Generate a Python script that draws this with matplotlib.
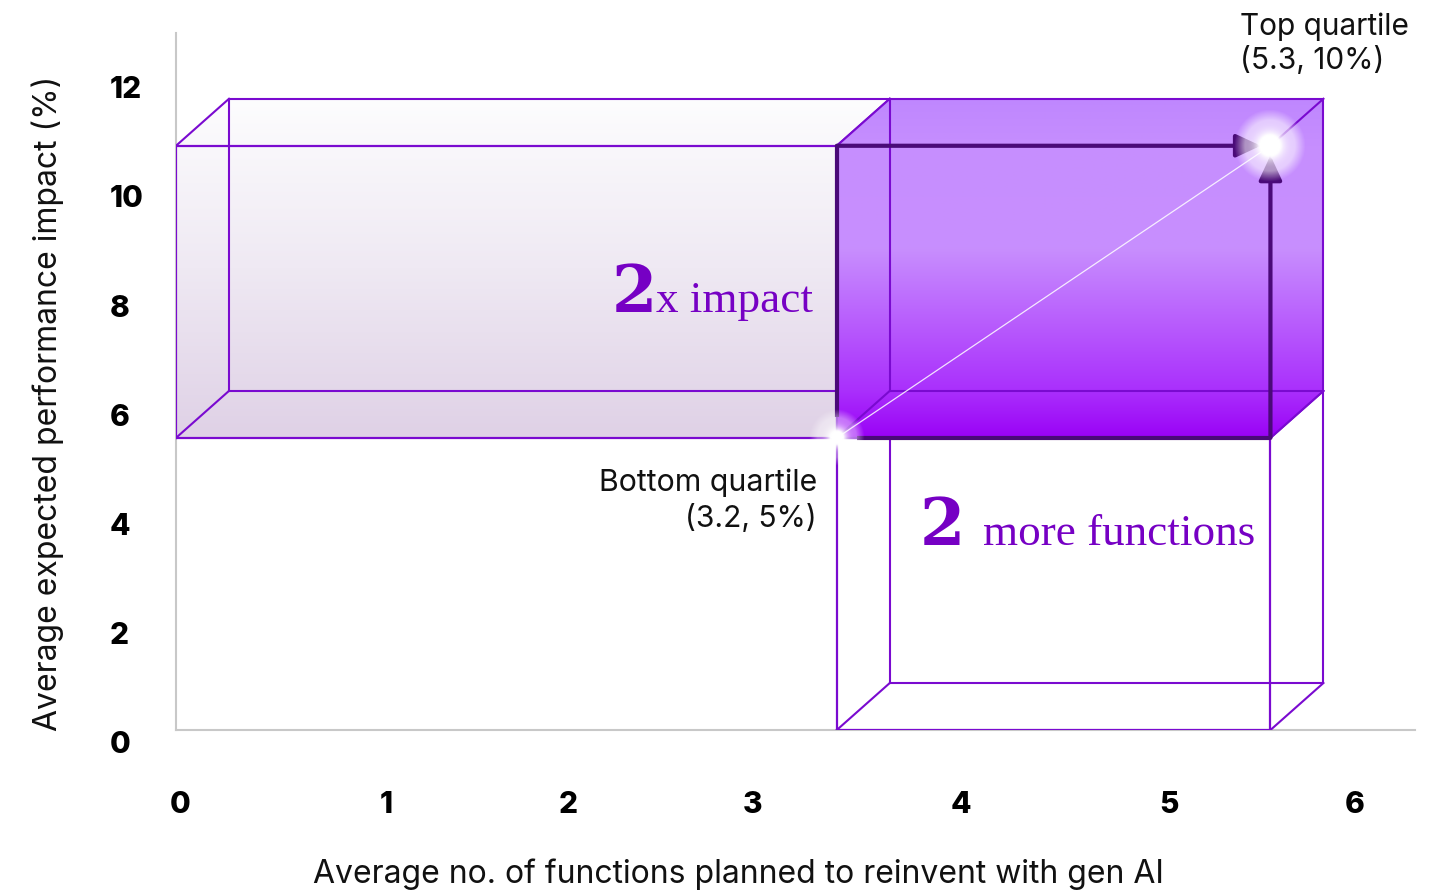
import numpy as np
import matplotlib
matplotlib.use("Agg")
import matplotlib.pyplot as plt
from matplotlib.colors import LinearSegmentedColormap
from matplotlib.patches import Polygon

# ----------------------------
# DATA
# ----------------------------
quartiles = ["Bottom quartile", "Top quartile"]
functions = [3.2, 5.3]     # average no. of functions planned
impact = [5, 10]           # average expected performance impact (%)

x_tick_labels = ["0", "1", "2", "3", "4", "5", "6"]
y_tick_labels = ["0", "2", "4", "6", "8", "10", "12"]
# label positions as they sit in the original (not evenly spaced)
x_tick_pos = [0.02, 1.02, 1.90, 2.79, 3.80, 4.81, 5.71]
y_tick_pos = [-0.26, 1.61, 3.48, 5.34, 7.21, 9.09, 10.96]

# ----------------------------
# STYLE
# ----------------------------
SANS = ["Inter", "DejaVu Sans"]
SERIF = ["Liberation Serif", "DejaVu Serif"]
EDGE = "#7A0AD0"
DARK = "#4A0A78"
TEXT_PURPLE = "#7600C4"
AXIS_GREY = "#C8C8C8"

W, H, DPI = 1443, 894, 100
X_MAX, Y_MAX = 6.0, 11.93
AX_L, AX_R, AX_B, AX_T = 176, 1415, 730, 33   # pixels
PPX = (AX_R - AX_L) / X_MAX
PPY = (AX_B - AX_T) / Y_MAX
DX, DY = 53 / PPX, 47 / PPY                    # box depth

fig = plt.figure(figsize=(W / DPI, H / DPI), dpi=DPI)
ax = fig.add_axes([AX_L / W, (H - AX_B) / H, (AX_R - AX_L) / W, (AX_B - AX_T) / H])
ax.set_xlim(0, X_MAX)
ax.set_ylim(0, Y_MAX)


def draw_box(x0, x1, y0, y1, stops=None, z=2):
    verts = [(x0, y0), (x1, y0), (x1 + DX, y0 + DY), (x1 + DX, y1 + DY),
             (x0 + DX, y1 + DY), (x0, y1)]
    if stops is not None:
        cmap = LinearSegmentedColormap.from_list("g", stops)
        grad = np.linspace(0, 1, 256).reshape(-1, 1)
        clip = Polygon(verts, closed=True, transform=ax.transData,
                       facecolor="none", edgecolor="none")
        ax.add_patch(clip)
        im = ax.imshow(grad, cmap=cmap, origin="lower", aspect="auto",
                       extent=(x0, x1 + DX, y0, y1 + DY), zorder=z,
                       interpolation="bilinear")
        im.set_clip_path(clip)
    # back face
    ax.plot([x0 + DX, x1 + DX, x1 + DX, x0 + DX, x0 + DX],
            [y0 + DY, y0 + DY, y1 + DY, y1 + DY, y0 + DY],
            color=EDGE, lw=1.5, zorder=z + 0.1)
    # depth edges
    for cx, cy in [(x0, y0), (x1, y0), (x1, y1), (x0, y1)]:
        ax.plot([cx, cx + DX], [cy, cy + DY], color=EDGE, lw=1.5, zorder=z + 0.1)
    # front face
    ax.plot([x0, x1, x1, x0, x0], [y0, y0, y1, y1, y0],
            color=EDGE, lw=1.6, zorder=z + 0.2)


def glow(x, y, r_px, core, halo, z=8):
    n = 121
    g = np.linspace(-1, 1, n)
    gx, gy = np.meshgrid(g, g)
    r = np.sqrt(gx ** 2 + gy ** 2)
    a = core * np.exp(-(r / 0.33) ** 2) + halo * np.clip((1 - r) / 0.3, 0, 1)
    rgba = np.ones((n, n, 4))
    rgba[..., 3] = np.clip(a, 0, 1)
    ax.imshow(rgba, extent=(x - r_px / PPX, x + r_px / PPX, y - r_px / PPY, y + r_px / PPY),
              aspect="auto", zorder=z, interpolation="bilinear")


x_lo, x_hi = functions
y_lo, y_hi = impact

# left (bottom-quartile impact) box
draw_box(0, x_lo, y_lo, y_hi,
         stops=[(0, "#DFD1E6"), (0.5, "#EFE9F3"), (1, "#FDFDFE")], z=2)
# lower box (extra functions), outline only
draw_box(x_lo, x_hi, 0, y_lo, stops=None, z=3)
# top-quartile box
draw_box(x_lo, x_hi, y_lo, y_hi,
         stops=[(0, "#9A02F6"), (0.14, "#AA30FC"), (0.56, "#C88FFE"),
                (0.86, "#C68EFE"), (1, "#BF87FE")], z=4)

# dark arrows along the top box
ax.plot([x_lo, x_lo], [y_lo + 0.35, y_hi], color=DARK, lw=3, zorder=6,
        solid_capstyle="butt")
ax.plot([x_lo + 0.1, x_hi], [y_lo, y_lo], color=DARK, lw=3, zorder=6,
        solid_capstyle="butt")
arrow = dict(arrowstyle="-|>,head_length=1.5,head_width=0.7", color=DARK, lw=3,
             shrinkA=0, shrinkB=7)
ax.annotate("", xy=(x_hi, y_hi), xytext=(x_lo, y_hi), arrowprops=arrow, zorder=6)
ax.annotate("", xy=(x_hi, y_hi), xytext=(x_hi, y_lo), arrowprops=arrow, zorder=6)

# thin diagonal between the two quartiles
ax.plot(functions, impact, color="white", lw=0.9, alpha=0.85, zorder=7)

glow(x_lo, y_lo, 28, 1.0, 0.4)
glow(x_hi, y_hi, 36, 1.0, 0.55)
ax.set_xlim(0, X_MAX)
ax.set_ylim(0, Y_MAX)

# big serif call-outs
ax.text(2.329, 7.157, "2", family=["DejaVu Serif"], fontsize=47, fontweight="bold",
        color=TEXT_PURPLE, ha="right", va="baseline", zorder=9)
ax.text(2.324, 7.157, "x impact", family=SERIF, fontsize=32.5,
        color=TEXT_PURPLE, ha="left", va="baseline", zorder=9)
ax.text(3.603, 3.17, "2", family=["DejaVu Serif"], fontsize=47, fontweight="bold",
        color=TEXT_PURPLE, ha="left", va="baseline", zorder=9)
ax.text(3.908, 3.17, "more functions", family=SERIF, fontsize=32.5,
        color=TEXT_PURPLE, ha="left", va="baseline", zorder=9)

# quartile annotations
ax.text(5.153, 11.90, "Top quartile", family=SANS, fontsize=21.5, color="#111111",
        ha="left", va="baseline", clip_on=False)
ax.text(5.153, 11.32, f"({functions[1]}, {impact[1]}%)", family=SANS, fontsize=21.5,
        color="#111111", ha="left", va="baseline", clip_on=False)
ax.text(3.104, 4.09, "Bottom quartile", family=SANS, fontsize=21.8, color="#111111",
        ha="right", va="baseline", zorder=9)
ax.text(3.104, 3.48, f"({functions[0]}, {impact[0]}%)", family=SANS, fontsize=21.5,
        color="#111111", ha="right", va="baseline", zorder=9)

# axes
for side in ["top", "right"]:
    ax.spines[side].set_visible(False)
for side in ["left", "bottom"]:
    ax.spines[side].set_color(AXIS_GREY)
    ax.spines[side].set_linewidth(1.5)
    ax.spines[side].set_zorder(1)

ax.set_xticks(x_tick_pos, x_tick_labels)
ax.tick_params(axis="x", length=0, pad=44)
for lab in ax.get_xticklabels():
    lab.set_fontfamily(SANS)
    lab.set_fontweight("heavy")
    lab.set_fontsize(21.5)
ax.set_yticks([])
for pos, lab in zip(y_tick_pos, y_tick_labels):
    ax.text(-0.0533, pos, lab, transform=ax.get_yaxis_transform(), family=SANS,
            fontsize=21.5, fontweight="heavy", ha="left", va="center", clip_on=False)

ax.set_xlabel("Average no. of functions planned to reinvent with gen AI",
              family=SANS, fontsize=23, color="#111111")
ax.xaxis.set_label_coords(0.4536, -0.1836)
ax.set_ylabel("Average expected performance impact (%)",
              family=SANS, fontsize=23, color="#111111")
ax.yaxis.set_label_coords(-0.090, 0.468)

fig.savefig("out.png", dpi=DPI)
